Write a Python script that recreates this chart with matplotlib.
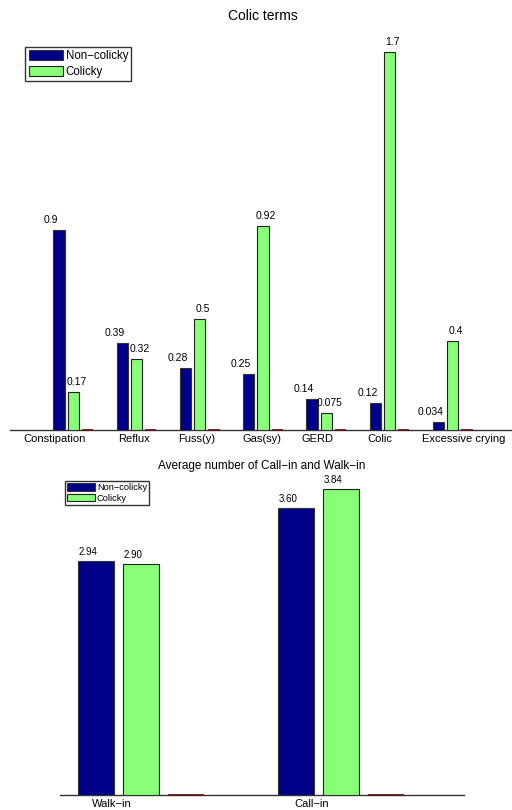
import numpy as np
import matplotlib.pyplot as plt

plt.rcParams['font.family'] = ['Liberation Sans', 'DejaVu Sans']

# colic terms (top panel)
terms = ['Constipation', 'Reflux', 'Fuss(y)', 'Gas(sy)', 'GERD', 'Colic', 'Excessive crying']
term_noncolicky = [0.9, 0.39, 0.28, 0.25, 0.14, 0.12, 0.034]
term_colicky = [0.17, 0.32, 0.5, 0.92, 0.075, 1.7, 0.4]
term_empty = [0, 0, 0, 0, 0, 0, 0]
term_label_shift = [-0.30, -0.04, -0.05, -0.02, -0.14, -0.16, 0.17]

# call-in / walk-in (bottom panel)
visits = ['Walk\u2212in', 'Call\u2212in']
visit_noncolicky = [2.94, 3.60]
visit_colicky = [2.90, 3.84]
visit_empty = [0, 0]

series_names = ['Non\u2212colicky', 'Colicky']
navy = '#000088'
green = '#88ff77'
darkred = '#800000'
W = 0.18
STEP = 0.225


def grouped(ax, x, a, b, c):
    b1 = ax.bar(x - STEP, a, W, color=navy, edgecolor='#333333', lw=0.8)
    b2 = ax.bar(x, b, W, color=green, edgecolor='#222222', lw=0.8)
    ax.axhline(0, color='#333333', lw=1.0, zorder=0.5, clip_on=False)
    # third series is all zeros: only a thin dark-red line shows
    ax.bar(x + STEP, c, W, color=darkred, edgecolor='#5a1010', lw=1.2,
           zorder=2, clip_on=False)
    for s in ax.spines.values():
        s.set_visible(False)
    ax.set_yticks([])
    ax.tick_params(axis='x', length=0)
    return b1, b2


fig = plt.figure(figsize=(5.12, 8.10), dpi=100)

# top panel
ax1 = fig.add_axes([10 / 512, 1 - 430 / 810, 506 / 512, 400 / 810])
x1 = np.arange(1, len(terms) + 1)
h1, h2 = grouped(ax1, x1, term_noncolicky, term_colicky, term_empty)
ax1.set_xlim(0, 8)
ax1.set_ylim(0, 1.8)
ax1.set_xticks(x1 + np.array(term_label_shift))
ax1.set_xticklabels(terms, fontsize=8)
ax1.tick_params(axis='x', pad=3)
ax1.set_title('Colic terms', fontsize=10, pad=7)
for xi, v in zip(x1, term_noncolicky):
    ax1.annotate('%g' % v, (xi - STEP - 0.125, v), xytext=(0, 5),
                 textcoords='offset pixels', ha='center', va='bottom', fontsize=7.5)
for xi, v in zip(x1, term_colicky):
    ax1.annotate('%g' % v, (xi + 0.05, v), xytext=(0, 5),
                 textcoords='offset pixels', ha='center', va='bottom', fontsize=7.5)
leg = ax1.legend([h1, h2], series_names, loc='upper left', bbox_to_anchor=(0.030, 0.958),
                 borderaxespad=0, fancybox=False, fontsize=8.3, handlelength=3.0,
                 handleheight=0.95, handletextpad=0.2, borderpad=0.3, labelspacing=0.3)
leg.get_frame().set_edgecolor('black')
leg.get_frame().set_linewidth(1.0)

# bottom panel
ax2 = fig.add_axes([60 / 512, 1 - 795 / 810, 404 / 512, 319 / 810])
x2 = np.arange(1, len(visits) + 1)
g1, g2 = grouped(ax2, x2, visit_noncolicky, visit_colicky, visit_empty)
ax2.set_xlim(0.595, 2.615)
ax2.set_ylim(0, 4)
ax2.set_xticks(x2 - 0.145)
ax2.set_xticklabels(visits, fontsize=8)
ax2.tick_params(axis='x', pad=3)
ax2.set_title('Average number of Call\u2212in and Walk\u2212in', fontsize=8.5, pad=5)
for xi, v in zip(x2, visit_noncolicky):
    ax2.annotate('%.2f' % v, (xi - STEP - W / 2, v), xytext=(1, 4),
                 textcoords='offset pixels', ha='left', va='bottom', fontsize=7)
for xi, v in zip(x2, visit_colicky):
    ax2.annotate('%.2f' % v, (xi - W / 2, v), xytext=(1, 4),
                 textcoords='offset pixels', ha='left', va='bottom', fontsize=7)
leg2 = ax2.legend([g1, g2], series_names, loc='upper left', bbox_to_anchor=(0.012, 0.984),
                  borderaxespad=0, fancybox=False, fontsize=6.7, handlelength=3.0,
                  handleheight=0.85, handletextpad=0.2, borderpad=0.25, labelspacing=0.15)
leg2.get_frame().set_edgecolor('black')
leg2.get_frame().set_linewidth(1.0)

fig.savefig('out.png', dpi=100)
